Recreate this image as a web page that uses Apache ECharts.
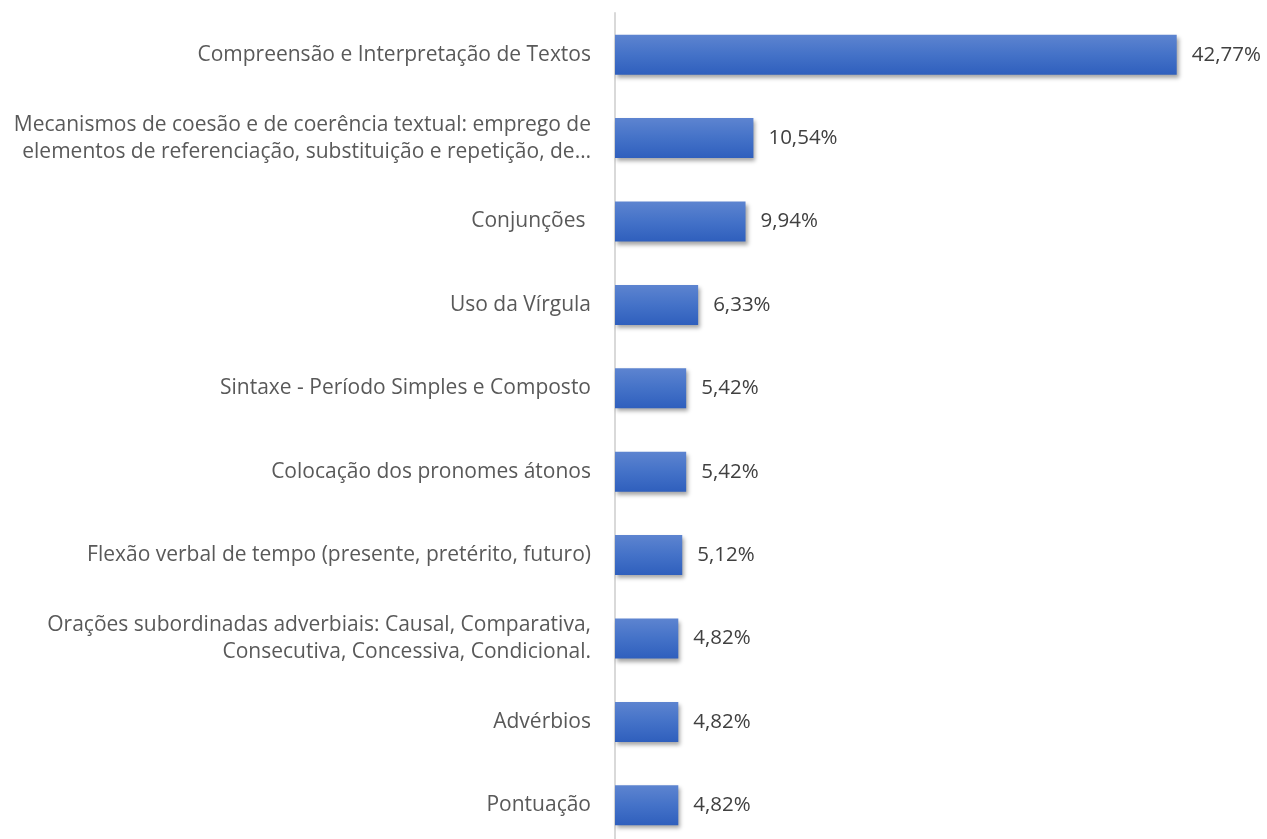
<!DOCTYPE html>
<html>
<head>
<meta charset="utf-8">
<script src="https://cdn.jsdelivr.net/npm/echarts@6/dist/echarts.min.js"></script>
<style>
  html, body { margin: 0; padding: 0; background: #fff; }
  #chart { width: 1267px; height: 839px; }
</style>
</head>
<body>
<div id="chart"></div>
<script>
const categories = [
  "Compreensão e Interpretação de Textos",
  "Mecanismos de coesão e de coerência textual: emprego de\nelementos de referenciação, substituição e repetição, de…",
  "Conjunções ",
  "Uso da Vírgula",
  "Sintaxe - Período Simples e Composto",
  "Colocação dos pronomes átonos",
  "Flexão verbal de tempo (presente, pretérito, futuro)",
  "Orações subordinadas adverbiais: Causal, Comparativa,\nConsecutiva, Concessiva, Condicional.",
  "Advérbios",
  "Pontuação"
];
const values = [42.77, 10.54, 9.94, 6.33, 5.42, 5.42, 5.12, 4.82, 4.82, 4.82];

const chart = echarts.init(document.getElementById("chart"));

chart.setOption({
  animation: false,
  textStyle: { fontFamily: "Open Sans" },
  grid: { left: 615, width: 591, top: 13, height: 834, outerBoundsMode: "none", containLabel: false },
  xAxis: {
    type: "value",
    min: 0,
    max: 45,
    show: false
  },
  yAxis: {
    type: "category",
    data: categories,
    inverse: true,
    axisTick: { show: false },
    axisLine: { lineStyle: { color: "#d9d9d9", width: 2 } },
    axisLabel: {
      color: "#595959",
      fontSize: 21,
      lineHeight: 27,
      margin: 24,
      align: "right"
    }
  },
  series: [
    {
      type: "bar",
      data: values,
      barWidth: 40,
      itemStyle: {
        color: new echarts.graphic.LinearGradient(0, 0, 0, 1, [
          { offset: 0, color: "#5d84d0" },
          { offset: 0.5, color: "#4472c8" },
          { offset: 1, color: "#2f5fbd" }
        ]),
        shadowColor: "rgba(0,0,0,0.35)",
        shadowBlur: 4,
        shadowOffsetX: 2,
        shadowOffsetY: 3
      },
      label: {
        show: true,
        position: "right",
        distance: 15,
        color: "#404040",
        fontSize: 20.5,
        fontFamily: "Open Sans",
        formatter: p => p.value.toFixed(2).replace(".", ",") + "%"
      }
    }
  ]
});
</script>
</body>
</html>
